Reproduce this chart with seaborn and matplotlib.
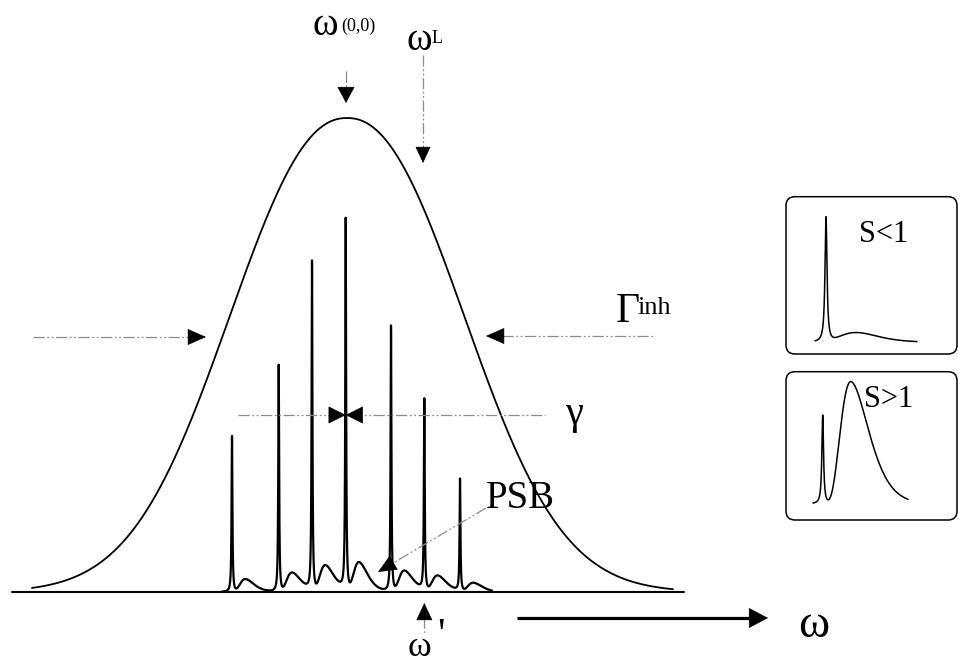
import numpy as np
import pandas as pd
import matplotlib
matplotlib.use("Agg")
import matplotlib.pyplot as plt
import seaborn as sns
from matplotlib.patches import FancyBboxPatch

sns.set_theme(style="white")
plt.rcParams["font.family"] = ["Liberation Serif", "DejaVu Serif"]

# ---- inhomogeneous envelope (drawing units are pixels, y grows downward)
env_center = 347.0
env_height = 474.0
env_halfwidth = 155.0
env_power = 2.2
baseline_y = 592.0

# ---- zero-phonon lines of selected sites and their phonon side bands
zpl_pos = [232.0, 278.7, 312.0, 345.7, 391.0, 424.3, 460.0]
zpl_height = [156, 227, 329, 371, 266, 191, 112]
psb_height = [12.7, 19, 26, 29, 21, 16, 9]
psb_offset = 13.3

# ---- single-site spectra for weak and strong electron-phonon coupling
inset_labels = ["S<1", "S>1"]
inset_zpl_pos = [826.0, 822.7]
inset_zpl_height = [125.6, 89.0]
inset_psb_offset = [30.7, 28.0]
inset_psb_height = [9.6, 122.3]


def lorentz(x, x0, h, w):
    return h / (1.0 + ((x - x0) / w) ** 2)


def side_band(x, x0, d0, h, k_rise, k_decay):
    d = np.clip(x - x0, 1e-9, None)
    r = d / d0
    k = np.where(r < 1, k_rise, k_decay)
    out = h * np.exp(k * (np.log(r) + 1 - r))
    return np.where(x > x0, out, 0.0)


fig = plt.figure(figsize=(9.58, 6.64), dpi=100)
ax = fig.add_axes([0, 0, 1, 1])
PT = 72 / 100  # points per pixel


def curve(x, y, lw):
    df = pd.DataFrame({"x": x, "y": y})
    sns.lineplot(data=df, x="x", y="y", ax=ax, color="black", lw=lw,
                 estimator=None, sort=False, legend=False)


def guide(p0, p1):
    ax.plot([p0[0], p1[0]], [p0[1], p1[1]], color="#8c8c8c", lw=0.9,
            ls=(0, (9, 2, 1.5, 2, 1.5, 2)), solid_capstyle="butt")


def head(tip, direction, length, width):
    dx, dy = direction
    base = (tip[0] - dx * length, tip[1] - dy * length)
    ms = 10
    ax.annotate("", xy=tip, xytext=base, xycoords="data",
                arrowprops=dict(
                    arrowstyle=f"-|>,head_length={length * PT / ms:.3f},"
                               f"head_width={width / 2 * PT / ms:.3f}",
                    mutation_scale=ms, color="black", lw=0.5,
                    shrinkA=0, shrinkB=0))


# frequency baseline
ax.plot([12, 684], [baseline_y, baseline_y], color="black", lw=1.5)

# envelope
xe = np.linspace(32, 673, 800)
ye = baseline_y - env_height * np.exp(-np.abs((xe - env_center) / env_halfwidth) ** env_power)
curve(xe, ye, 1.3)

# site-selected spectrum: sharp ZPLs with side bands
xs = np.arange(222, 492, 0.05)
sig = np.zeros_like(xs)
for p, h, hb in zip(zpl_pos, zpl_height, psb_height):
    sig += lorentz(xs, p, h, 0.5)
    sig += side_band(xs, p, psb_offset, hb, 5.0, 3.5)
curve(xs, baseline_y - sig, 1.6)

# arrows and guides
guide((346, 71), (346, 90))
head((346, 103), (0, 1), 15, 16)

guide((423, 55), (423, 150))
head((423, 163), (0, 1), 15, 14)

guide((33, 337), (190, 337))
head((206, 337), (1, 0), 17, 15)
guide((502, 336), (653, 336))
head((486, 336), (-1, 0), 17, 15)

guide((238, 415), (545, 415))
head((345.7, 415), (1, 0), 16, 16)
head((345.7, 415), (-1, 0), 16, 16)

v = np.array([378 - 486, 572 - 508], float)
v /= np.hypot(*v)
guide((486, 508), (378 - v[0] * 14, 572 - v[1] * 14))
head((378, 572), tuple(v), 17, 15)

guide((424.3, 617), (424.3, 633))
head((424.3, 603), (0, -1), 16, 15)

ax.plot([517, 752], [618, 618], color="black", lw=2.3, solid_capstyle="butt")
head((768, 618), (1, 0), 18, 19)

# labels
def label(x, y, s, size):
    ax.text(x, y, s, fontsize=size, va="baseline", ha="left", color="black")

label(313, 35, "ω", 28)
label(341, 31, "(0,0)", 13)
label(407, 50, "ω", 28)
label(432, 43, "L", 13)
label(616, 321.7, "Γ", 30)
label(637, 314, "inh", 19)
label(566, 424, "γ", 29)
label(486, 508, "PSB", 28)
label(798, 637, "ω", 34)
label(408, 656, "ω", 26)
label(437, 647, "'", 30)

# coupling-strength insets
boxes = [(786, 196.7, 171, 157.3), (786, 371.7, 171, 148.3)]
ranges = [(815, 917), (813, 908)]
bases = [342.3, 504.0]
widths = [1.2, 1.0]
rise = [2.5, 5.5]
decay = [3.0, 3.5]
text_pos = [(859, 241.7), (864, 406.7)]
for i in range(2):
    bx, by, bw, bh = boxes[i]
    ax.add_patch(FancyBboxPatch((bx, by), bw, bh,
                                boxstyle="round,pad=0,rounding_size=9",
                                fc="none", ec="black", lw=1.1))
    xi = np.arange(ranges[i][0], ranges[i][1], 0.05)
    si = lorentz(xi, inset_zpl_pos[i], inset_zpl_height[i], widths[i])
    si += side_band(xi, inset_zpl_pos[i], inset_psb_offset[i],
                    inset_psb_height[i], rise[i], decay[i])
    curve(xi, bases[i] - si, 1.1)
    label(text_pos[i][0], text_pos[i][1], inset_labels[i], 22)

ax.set_xlim(0, 958)
ax.set_ylim(664, 0)
ax.axis("off")
fig.savefig("out.png", dpi=100, facecolor="white")
